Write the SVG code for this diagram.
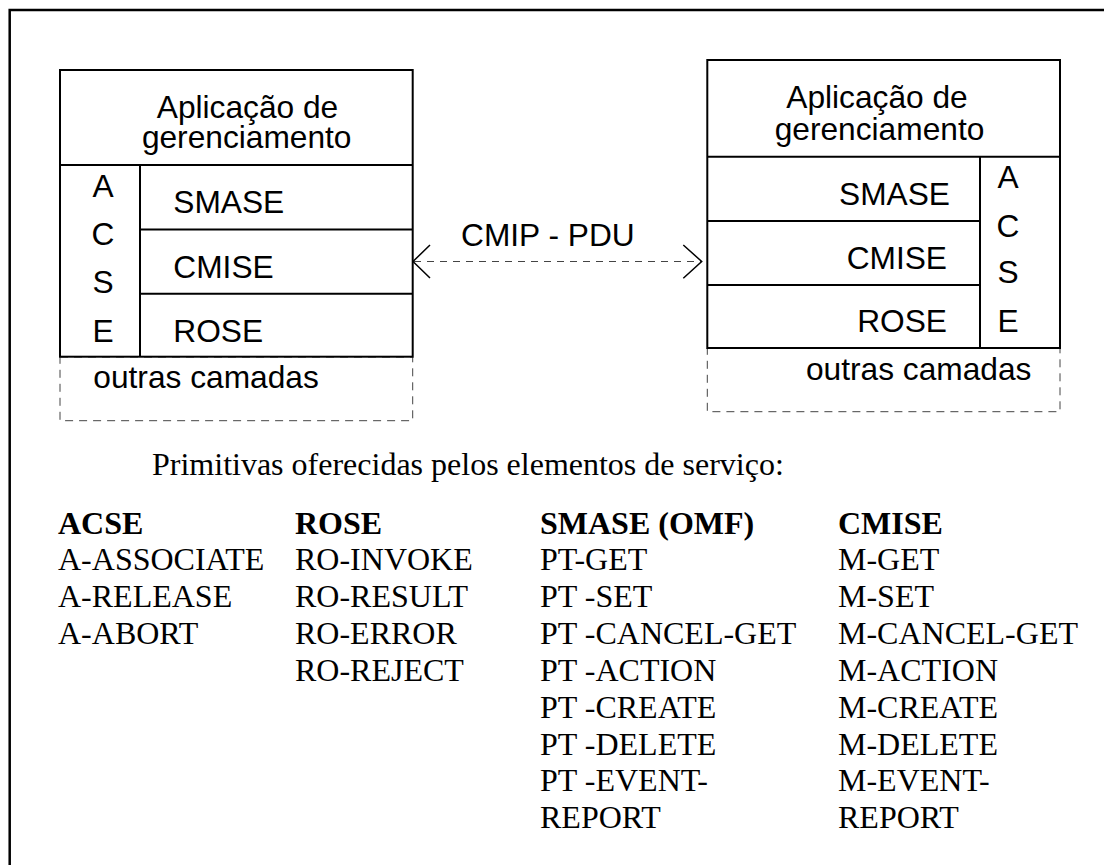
<svg xmlns="http://www.w3.org/2000/svg" width="1104" height="865" viewBox="0 0 1104 865">
<style>
.solid{fill:none;stroke:#000;stroke-width:2}
.dash{fill:none;stroke:#444;stroke-width:1;stroke-dasharray:8 6}
.sans{font-family:"Liberation Sans",Arial,sans-serif;font-size:31.7px;fill:#000}
.serif{font-family:"Liberation Serif","Times New Roman",serif;font-size:32px;fill:#000}
.b{font-weight:bold}
.mid{text-anchor:middle}
.end{text-anchor:end}
.conn{fill:none;stroke:#444;stroke-width:1;stroke-dasharray:7 6}
.head{fill:none;stroke:#000;stroke-width:1.5}
</style>
<rect width="1104" height="865" fill="#fff"/>
<g id="frame">
<path d="M9.7 865 V10 H1104" fill="none" stroke="#000" stroke-width="2.5"/>
</g>
<g id="left-stack">
<rect class="dash" x="60" y="357" width="352.7" height="63.7"/>
<rect class="solid" x="60" y="70" width="352.7" height="286.7"/>
<line class="solid" x1="60" y1="165" x2="412.7" y2="165"/>
<line class="solid" x1="140" y1="165" x2="140" y2="356.7"/>
<line class="solid" x1="140" y1="229.5" x2="412.7" y2="229.5"/>
<line class="solid" x1="140" y1="293.7" x2="412.7" y2="293.7"/>
<text class="sans mid" x="247.5" y="118.3">Aplicação de</text>
<text class="sans mid" x="246.7" y="148">gerenciamento</text>
<text class="sans mid" x="103" y="196.7">A</text>
<text class="sans mid" x="103" y="245">C</text>
<text class="sans mid" x="103" y="292.7">S</text>
<text class="sans mid" x="103" y="341.7">E</text>
<text class="sans" x="173.3" y="213.3">SMASE</text>
<text class="sans" x="173.3" y="277.7">CMISE</text>
<text class="sans" x="173.3" y="341.7">ROSE</text>
<text class="sans" x="93.3" y="388.3">outras camadas</text>
</g>
<g id="right-stack">
<rect class="dash" x="707.3" y="348" width="352.7" height="63.7"/>
<rect class="solid" x="707.3" y="60" width="352.7" height="288"/>
<line class="solid" x1="707.3" y1="156.7" x2="1060" y2="156.7"/>
<line class="solid" x1="980" y1="156.7" x2="980" y2="348"/>
<line class="solid" x1="707.3" y1="221" x2="980" y2="221"/>
<line class="solid" x1="707.3" y1="285" x2="980" y2="285"/>
<text class="sans mid" x="877" y="108.3">Aplicação de</text>
<text class="sans mid" x="879.5" y="140">gerenciamento</text>
<text class="sans end" x="950" y="205">SMASE</text>
<text class="sans end" x="947" y="269">CMISE</text>
<text class="sans end" x="947" y="332">ROSE</text>
<text class="sans mid" x="1008" y="188">A</text>
<text class="sans mid" x="1008" y="237">C</text>
<text class="sans mid" x="1008" y="283">S</text>
<text class="sans mid" x="1008" y="332">E</text>
<text class="sans" x="806" y="380">outras camadas</text>
</g>
<g id="connectors">
<line class="conn" x1="414" y1="261.5" x2="701" y2="261.5"/>
<polyline class="head" points="430,245 413,261.5 430,278"/>
<polyline class="head" points="683.3,245 701.7,261.5 683.3,278.3"/>
<text class="sans" x="461" y="246">CMIP - PDU</text>
</g>
<g id="primitives">
<text class="serif" x="152" y="475">Primitivas oferecidas pelos elementos de serviço:</text>
<g id="col-acse">
<text class="serif b" x="58" y="533.5">ACSE</text>
<text class="serif" x="58" y="570.3">A-ASSOCIATE</text>
<text class="serif" x="58" y="607.2">A-RELEASE</text>
<text class="serif" x="58" y="644">A-ABORT</text>
</g>
<g id="col-rose">
<text class="serif b" x="295" y="533.5">ROSE</text>
<text class="serif" x="295" y="570.3">RO-INVOKE</text>
<text class="serif" x="295" y="607.2">RO-RESULT</text>
<text class="serif" x="295" y="644">RO-ERROR</text>
<text class="serif" x="295" y="680.9">RO-REJECT</text>
</g>
<g id="col-smase">
<text class="serif b" x="540" y="533.5">SMASE (OMF)</text>
<text class="serif" x="540" y="570.3">PT-GET</text>
<text class="serif" x="540" y="607.2">PT -SET</text>
<text class="serif" x="540" y="644">PT -CANCEL-GET</text>
<text class="serif" x="540" y="680.9">PT -ACTION</text>
<text class="serif" x="540" y="717.7">PT -CREATE</text>
<text class="serif" x="540" y="754.6">PT -DELETE</text>
<text class="serif" x="540" y="791.4">PT -EVENT-</text>
<text class="serif" x="540" y="828.3">REPORT</text>
</g>
<g id="col-cmise">
<text class="serif b" x="838" y="533.5">CMISE</text>
<text class="serif" x="838" y="570.3">M-GET</text>
<text class="serif" x="838" y="607.2">M-SET</text>
<text class="serif" x="838" y="644">M-CANCEL-GET</text>
<text class="serif" x="838" y="680.9">M-ACTION</text>
<text class="serif" x="838" y="717.7">M-CREATE</text>
<text class="serif" x="838" y="754.6">M-DELETE</text>
<text class="serif" x="838" y="791.4">M-EVENT-</text>
<text class="serif" x="838" y="828.3">REPORT</text>
</g>
</g>
</svg>
